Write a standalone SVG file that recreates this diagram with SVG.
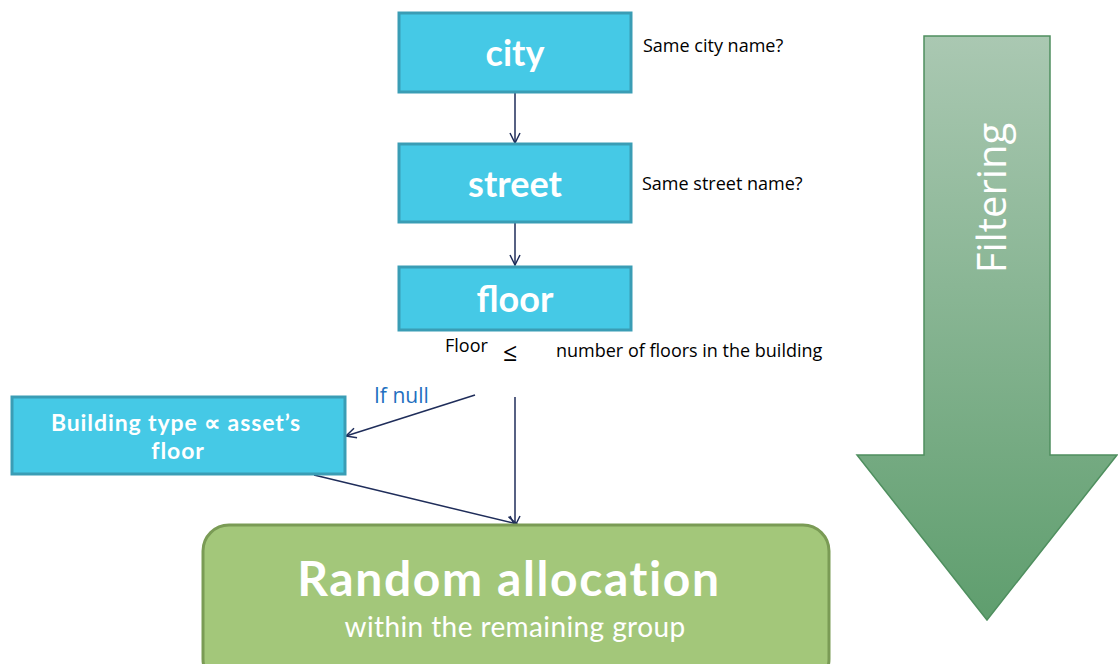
<svg xmlns="http://www.w3.org/2000/svg" width="1118" height="664" viewBox="0 0 1118 664">
<defs>
<linearGradient id="gArrow" x1="0" y1="0" x2="0" y2="1">
<stop offset="0" stop-color="#aac8b2"/>
<stop offset="1" stop-color="#5f9e6e"/>
</linearGradient>
<marker id="arr" viewBox="0 0 12 12" refX="11" refY="6" markerWidth="12" markerHeight="12" markerUnits="userSpaceOnUse" orient="auto">
<path d="M1,1 L11,6 L1,11" fill="none" stroke="#1f2d5a" stroke-width="1.5"/>
</marker>
</defs>
<style>
.box{fill:#45c9e6;stroke:#3a9db5;stroke-width:3}
.nt{font-family:Lato,"Open Sans","Liberation Sans",sans-serif;font-weight:bold;fill:#fff;text-anchor:middle}
.lab{font-family:"Open Sans","Liberation Sans",sans-serif;fill:#000}
.con{fill:none;stroke:#1f2d5a;stroke-width:1.5;marker-end:url(#arr)}
</style>
<rect width="1118" height="664" fill="#fff"/>
<g id="filtering-arrow">
<path d="M924,36 L1050,36 L1050,455 L1117,455 L987,620 L857,455 L924,455 Z" fill="url(#gArrow)" stroke="#4f8f5f" stroke-width="1.5"/>
<text transform="translate(1006,198) rotate(-90)" font-family="'Open Sans','Liberation Sans',sans-serif" font-size="40" fill="#fff" text-anchor="middle">Filtering</text>
</g>
<g id="connectors">
<path class="con" d="M515,92 L515,143"/>
<path class="con" d="M515,222 L515,265"/>
<path class="con" d="M475,395 L346,436"/>
<path class="con" d="M515,397 L515,526"/>
<path class="con" d="M314,475 L517,524"/>
</g>
<g id="city">
<rect class="box" x="399" y="13" width="232" height="79"/>
<text class="nt" x="515" y="66" font-size="36">city</text>
</g>
<text class="lab" x="643" y="52" font-size="18">Same city name?</text>
<g id="street">
<rect class="box" x="399" y="144" width="232" height="78"/>
<text class="nt" x="515" y="197" font-size="36">street</text>
</g>
<text class="lab" x="642" y="190" font-size="18">Same street name?</text>
<g id="floor">
<rect class="box" x="399" y="267" width="232" height="63"/>
<text class="nt" x="515" y="312" font-size="36">floor</text>
</g>
<text class="lab" x="445" y="352" font-size="18">Floor</text>
<text class="lab" x="503" y="361" font-size="25">≤</text>
<text class="lab" x="556" y="357" font-size="18">number of floors in the building</text>
<text x="374" y="403" font-family="'Open Sans','Liberation Sans',sans-serif" font-size="21" fill="#1f6fc0">If null</text>
<g id="building-type">
<rect class="box" x="12" y="397" width="333" height="77"/>
<text class="nt" x="176" y="431" font-size="23" letter-spacing="0.9">Building type ∝ asset’s</text>
<text class="nt" x="178" y="459" font-size="23" letter-spacing="0.9">floor</text>
</g>
<g id="random-allocation">
<rect x="203" y="525" width="626" height="160" rx="26" ry="26" fill="#a3c77a" stroke="#7a9b55" stroke-width="3"/>
<text class="nt" x="509" y="596" font-size="48" letter-spacing="1.6">Random allocation</text>
<text x="515" y="637" font-family="Lato,'Open Sans','Liberation Sans',sans-serif" font-size="28" letter-spacing="0.4" fill="#fff" text-anchor="middle">within the remaining group</text>
</g>
</svg>
